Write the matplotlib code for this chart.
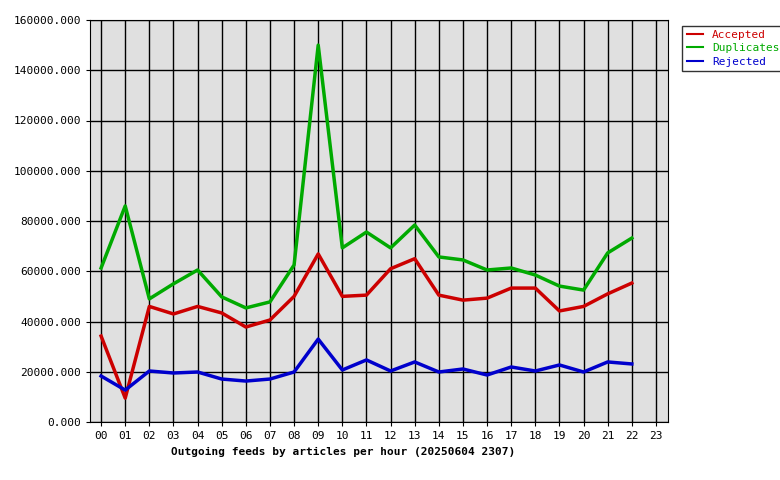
import matplotlib
matplotlib.use("Agg")
import matplotlib.pyplot as plt
from matplotlib.ticker import FuncFormatter

hours = list(range(23))
hour_labels = ["%02d" % h for h in range(24)]

accepted = [34200, 9500, 46000, 43000, 46000, 43400, 37800, 40600, 50000, 66900,
            50000, 50500, 61000, 65000, 50500, 48500, 49300, 53300, 53300, 44200,
            46000, 51000, 55300]
duplicates = [61300, 86000, 49000, 55000, 60500, 49800, 45400, 47800, 62500, 150000,
              69300, 75600, 69300, 78400, 65700, 64500, 60500, 61300, 58500, 54100,
              52500, 67300, 73200]
rejected = [18300, 12700, 20300, 19500, 19900, 17100, 16300, 17100, 19900, 33000,
            20700, 24700, 20300, 23900, 19900, 21100, 18700, 21900, 20300, 22700,
            19900, 23900, 23100]

plt.rcParams['font.family'] = ['DejaVu Sans Mono']
plt.rcParams['font.size'] = 8

fig = plt.figure(figsize=(7.8, 4.8), dpi=100)
ax = fig.add_axes([90 / 780, 58 / 480, 578 / 780, 402 / 480])
ax.set_facecolor('#e0e0e0')

ax.plot(hours, accepted, color='#cc0000', lw=2.5, label='Accepted')
ax.plot(hours, duplicates, color='#00aa00', lw=2.5, label='Duplicates')
ax.plot(hours, rejected, color='#0000cc', lw=2.5, label='Rejected')

ax.set_xlim(-0.46, 23.5)
ax.set_ylim(0, 160000)
ax.set_xticks(range(24))
ax.set_xticklabels(hour_labels)
ax.set_yticks(range(0, 160001, 20000))
ax.yaxis.set_major_formatter(FuncFormatter(lambda v, p: "%.3f" % v))
ax.grid(True, color='black', lw=1)
ax.set_axisbelow(True)
ax.tick_params(length=3, colors='black')
for s in ax.spines.values():
    s.set_color('black')

fig.text(0.443, 480 - 452, "", transform=None)
fig.text(343 / 780, 1 - 452 / 480, "Outgoing feeds by articles per hour (20250604 2307)",
         ha='center', va='center', fontweight='bold')

leg = ax.legend(loc='upper left', bbox_to_anchor=(1.015, 1.0), frameon=True,
                fancybox=False, edgecolor='black', handlelength=1.5,
                labelspacing=0.3, borderpad=0.4)
for t, c in zip(leg.get_texts(), ['#cc0000', '#00aa00', '#0000cc']):
    t.set_color(c)
for l in leg.get_lines():
    l.set_linewidth(1.5)

fig.savefig("out.png", dpi=100)
